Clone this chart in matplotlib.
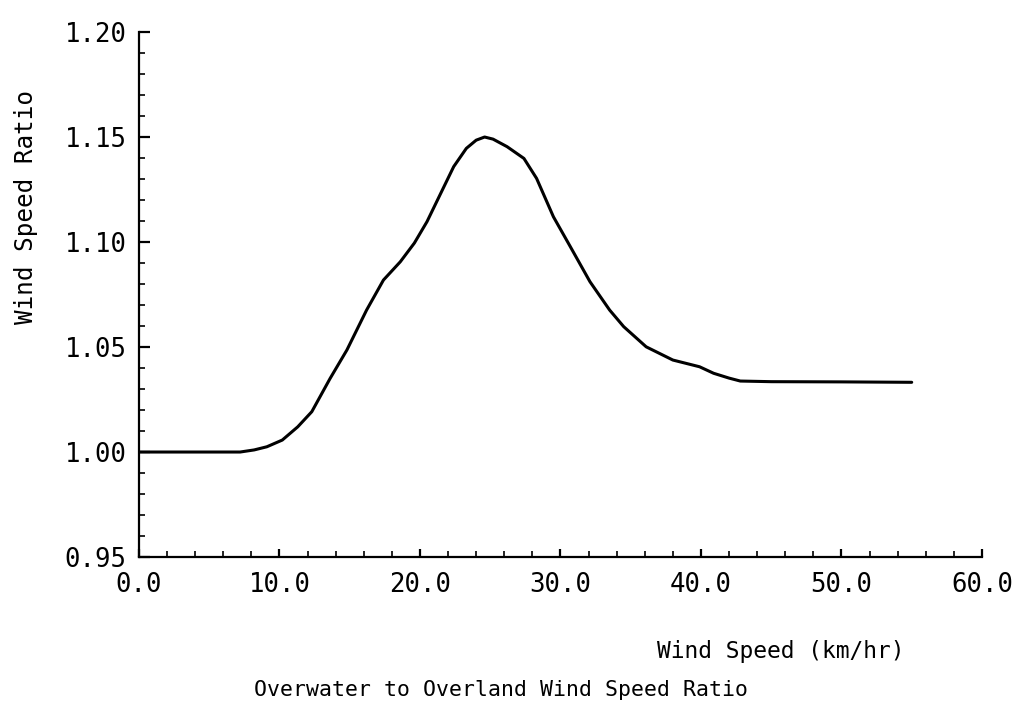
import matplotlib
matplotlib.use("Agg")
import matplotlib.pyplot as plt
from matplotlib.ticker import MultipleLocator, FormatStrFormatter

# overwater / overland ratio vs. wind speed
speed = [0.0, 3.0, 6.0, 7.2, 8.2, 9.1, 10.2, 11.3, 12.3, 13.6, 14.8, 16.2,
         17.4, 18.6, 19.6, 20.5, 21.5, 22.4, 23.3, 24.0, 24.6, 25.2, 26.2,
         27.4, 28.3, 29.5, 30.7, 32.1, 33.5, 34.5, 36.1, 38.0, 39.9, 40.9,
         42.0, 42.8, 45.0, 50.0, 55.0]
ratio = [1.000, 1.000, 1.000, 1.000, 1.001, 1.0025, 1.0057, 1.012, 1.0192,
         1.035, 1.0486, 1.0676, 1.0819, 1.0906, 1.0995, 1.1097, 1.1235,
         1.1359, 1.1446, 1.1485, 1.1500, 1.1490, 1.1454, 1.1398, 1.1303,
         1.112, 1.0978, 1.0811, 1.0676, 1.0597, 1.0501, 1.0438, 1.0406,
         1.0375, 1.0352, 1.0338, 1.0335, 1.0334, 1.0332]

plt.rcParams['font.family'] = 'DejaVu Sans Mono'

fig = plt.figure(figsize=(10.25, 7.18), dpi=100)
ax = fig.add_axes([0.1356, 0.2242, 0.8224, 0.7312])

ax.plot(speed, ratio, color='black', lw=2.2, solid_capstyle='round',
        solid_joinstyle='round')

ax.set_xlim(0, 60)
ax.set_ylim(0.95, 1.20)
ax.xaxis.set_major_locator(MultipleLocator(10))
ax.xaxis.set_minor_locator(MultipleLocator(2))
ax.yaxis.set_major_locator(MultipleLocator(0.05))
ax.yaxis.set_minor_locator(MultipleLocator(0.01))
ax.xaxis.set_major_formatter(FormatStrFormatter('%.1f'))
ax.yaxis.set_major_formatter(FormatStrFormatter('%.2f'))

for s in ['top', 'right']:
    ax.spines[s].set_visible(False)
for s in ['left', 'bottom']:
    ax.spines[s].set_linewidth(1.6)

ax.tick_params(which='major', direction='in', length=8, width=1.6,
               labelsize=18.5, pad=9)
ax.tick_params(which='minor', direction='in', length=4, width=1.2)
ax.tick_params(axis='x', which='major', length=6, pad=11)

ax.set_ylabel('Wind Speed Ratio', fontsize=17.5)
ax.yaxis.set_label_coords(-0.12, 0.667)
fig.text(0.641, 0.093, 'Wind Speed (km/hr)', fontsize=16.5,
         va='center', ha='left')
fig.text(0.489, 0.039, 'Overwater to Overland Wind Speed Ratio',
         fontsize=15.5, va='center', ha='center')

fig.savefig('out.png', dpi=100)
